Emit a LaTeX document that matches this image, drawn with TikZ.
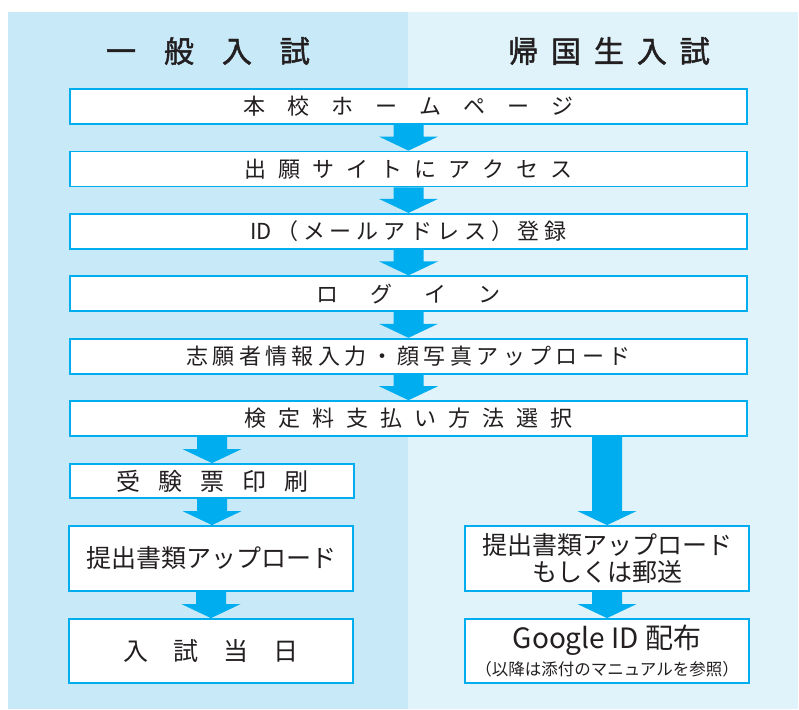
\documentclass[tikz,border=0pt]{standalone}
\usepackage{fontspec}
\setmainfont{Noto Sans CJK JP}
\newfontfamily\titlefont[FakeBold=1.6]{Noto Sans CJK JP}
\usetikzlibrary{calc}
\definecolor{leftbg}{HTML}{C8E9F8}
\definecolor{rightbg}{HTML}{E0F3FB}
\definecolor{cyanc}{HTML}{00AEEF}
\definecolor{textc}{HTML}{231F20}
\ExplSyntaxOn
\NewDocumentCommand\spaced{mm}{
  \bool_set_true:N \l_tmpa_bool
  \tl_map_inline:nn {#2}
   { \bool_if:NF \l_tmpa_bool { \hspace{#1} } \bool_set_false:N \l_tmpa_bool ##1 }
}
\ExplSyntaxOff
\newcommand\barrow[2]{%
  \fill[cyanc] let \p1=(#1), \p2=(#2) in
    (\x1-15pt,\y1) -- (\x1+15pt,\y1) -- (\x1+15pt,\y2+14pt) -- (\x1+29.5pt,\y2+14pt)
    -- (\x1,\y2) -- (\x1-29.5pt,\y2+14pt) -- (\x1-15pt,\y2+14pt) -- cycle;}
\tikzset{
  box/.style={draw=cyanc, line width=1.8pt, fill=white, inner sep=0pt, text=textc},
  wide/.style={box, minimum width=677pt, minimum height=35pt, font=\fontsize{22}{26}\selectfont},
  narrow/.style={box, minimum width=284pt, minimum height=65pt, font=\fontsize{25}{27}\selectfont, align=center},
  title/.style={text=textc, font=\titlefont\fontsize{30}{34}\selectfont, inner sep=0pt}
}
\begin{document}
\begin{tikzpicture}[x=1pt,y=-1pt]
\useasboundingbox (0,0) rectangle (799,709);
\fill[leftbg] (8,12) rectangle (408,709);
\fill[rightbg] (408,12) rectangle (798,709);
\node[title] (t1) at (208,51) {\spaced{0.93em}{一般入試}};
\node[title] (t2) at (609,51) {\spaced{0.43em}{帰国生入試}};
\node[wide] (b1) at (408.5,106.5) {\spaced{1em}{本校ホームページ}};
\node[wide] (b2) at (408.5,169) {\spaced{0.55em}{出願サイトにアクセス}};
\node[wide] (b3) at (408.5,231.3) {ID\hspace{0.2em}\spaced{0.22em}{（メールアドレス）登録}};
\node[wide] (b4) at (408.5,293.8) {\spaced{1.45em}{ログイン}};
\node[wide] (b5) at (408.5,356.2) {\spaced{0.2em}{志願者情報入力・顔写真アップロード}};
\node[wide] (b6) at (408.5,418.6) {\spaced{0.55em}{検定料支払い方法選択}};
\node[box, minimum width=284pt, minimum height=34pt, font=\fontsize{24}{26}\selectfont] (b7) at (212,481) {\spaced{0.75em}{受験票印刷}};
\node[narrow] (b8) at (211,558.5) {提出書類アップロード};
\node[narrow, minimum height=64pt] (b9) at (211,651) {\spaced{1em}{入試当日}};
\node[narrow] (r1) at (607,558.5) {提出書類アップロード\\もしくは郵送};
\node[narrow, minimum height=64pt, font=\fontsize{28}{30}\selectfont] (r2) at (607,651) {Google ID 配布\\[-3pt]{\fontsize{16.5}{19}\selectfont （以降は添付のマニュアルを参照）}};
\barrow{b1.south}{b2.north}
\barrow{b2.south}{b3.north}
\barrow{b3.south}{b4.north}
\barrow{b4.south}{b5.north}
\barrow{b5.south}{b6.north}
\barrow{b6.south -| b7.north}{b7.north}
\barrow{b7.south}{b8.north}
\barrow{b8.south}{b9.north}
\barrow{b6.south -| r1.north}{r1.north}
\barrow{r1.south}{r2.north}
\end{tikzpicture}
\end{document}
